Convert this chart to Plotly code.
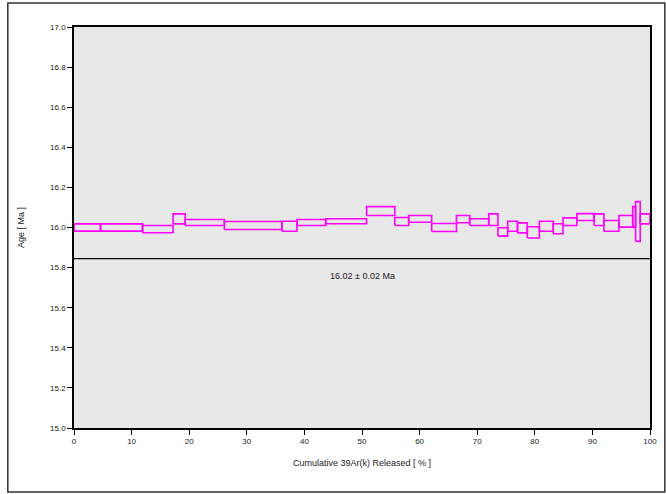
import plotly.graph_objects as go

# Step heating results: cumulative 39Ar(k) released (%) at the end of each step,
# apparent age (Ma) and 1-sigma error (Ma)
cum_release = [4.6, 11.9, 17.2, 19.3, 26.1, 36.1, 38.7, 43.7, 50.8, 55.7,
               58.1, 62.1, 66.4, 68.7, 72.0, 73.6, 75.3, 77.0, 78.7, 80.8,
               83.2, 84.9, 87.3, 90.3, 92.0, 94.6, 97.0, 97.5, 98.3, 100.0]
ages = [16.000, 16.000, 15.992, 16.043, 16.025, 16.010, 16.006, 16.025, 16.031, 16.082,
        16.030, 16.043, 16.000, 16.042, 16.027, 16.039, 15.978, 16.006, 15.998, 15.976,
        16.006, 15.994, 16.029, 16.052, 16.039, 16.008, 16.031, 16.053, 16.030, 16.043]
errors = [0.018, 0.018, 0.018, 0.025, 0.015, 0.020, 0.025, 0.015, 0.0125, 0.022,
          0.020, 0.017, 0.020, 0.018, 0.017, 0.029, 0.021, 0.025, 0.025, 0.028,
          0.025, 0.025, 0.019, 0.017, 0.029, 0.027, 0.029, 0.051, 0.099, 0.025]

plateau_label = "16.02 ± 0.02 Ma"
plateau_line_age = 15.845

y_ticks = [15.0, 15.2, 15.4, 15.6, 15.8, 16.0, 16.2, 16.4, 16.6, 16.8, 17.0]
x_ticks = [0, 10, 20, 30, 40, 50, 60, 70, 80, 90, 100]

# Build one closed rectangle per step (age ± error over its release interval)
xs, ys = [], []
start = 0.0
for end, a, e in zip(cum_release, ages, errors):
    lo, hi = a - e, a + e
    xs += [start, end, end, start, start, None]
    ys += [lo, lo, hi, hi, lo, None]
    start = end

fig = go.Figure()
fig.add_trace(go.Scatter(x=xs, y=ys, mode="lines",
                         line=dict(color="#FF00FF", width=1.6),
                         hoverinfo="skip", showlegend=False))

# plateau reference line across the full release range
fig.add_trace(go.Scatter(x=[0, 100], y=[plateau_line_age, plateau_line_age], mode="lines",
                         line=dict(color="#000000", width=1.2),
                         hoverinfo="skip", showlegend=False))

fig.add_annotation(x=50, y=plateau_line_age, xref="x", yref="y", yshift=-17,
                   text=plateau_label, showarrow=False,
                   font=dict(family="Liberation Sans", size=9, color="#1a1a1a"))

tick_font = dict(family="Liberation Sans", size=8, color="#1a1a1a")
fig.update_xaxes(range=[0, 100], tickvals=x_ticks, ticktext=[str(v) for v in x_ticks],
                 ticks="outside", ticklen=5, tickcolor="#000", tickwidth=1,
                 showline=True, linecolor="#000", linewidth=1.5, mirror=True,
                 showgrid=False, zeroline=False, tickfont=tick_font,
                 title=dict(text="Cumulative 39Ar(k) Released [ % ]",
                            font=dict(family="Liberation Sans", size=9, color="#1a1a1a"),
                            standoff=14))
fig.update_yaxes(range=[15.0, 17.0], tickvals=y_ticks, ticktext=[f"{v:.1f}" for v in y_ticks],
                 ticks="outside", ticklen=5, tickcolor="#000", tickwidth=1,
                 showline=True, linecolor="#000", linewidth=1.5, mirror=True,
                 showgrid=False, zeroline=False, tickfont=tick_font,
                 title=dict(text="Age [ Ma ]",
                            font=dict(family="Liberation Sans", size=9, color="#1a1a1a"),
                            standoff=24))

L, R, T, B = 74, 9, 27, 66
W, H = 666, 494
pw, ph = W - L - R, H - T - B
# outer frame around the chart (its right side runs past the page edge)
x0 = (7 - L) / pw
x1 = (672 - L) / pw
y0 = (H - B - 492) / ph
y1 = (H - B - 3) / ph
fig.add_shape(type="rect", xref="paper", yref="paper", x0=x0, x1=x1, y0=y0, y1=y1,
              line=dict(color="#333333", width=1.5), fillcolor="rgba(0,0,0,0)", layer="below")

fig.update_layout(width=W, height=H, margin=dict(l=L, r=R, t=T, b=B),
                  plot_bgcolor="#e8e8e8", paper_bgcolor="#ffffff")

fig.write_html("out.html")
